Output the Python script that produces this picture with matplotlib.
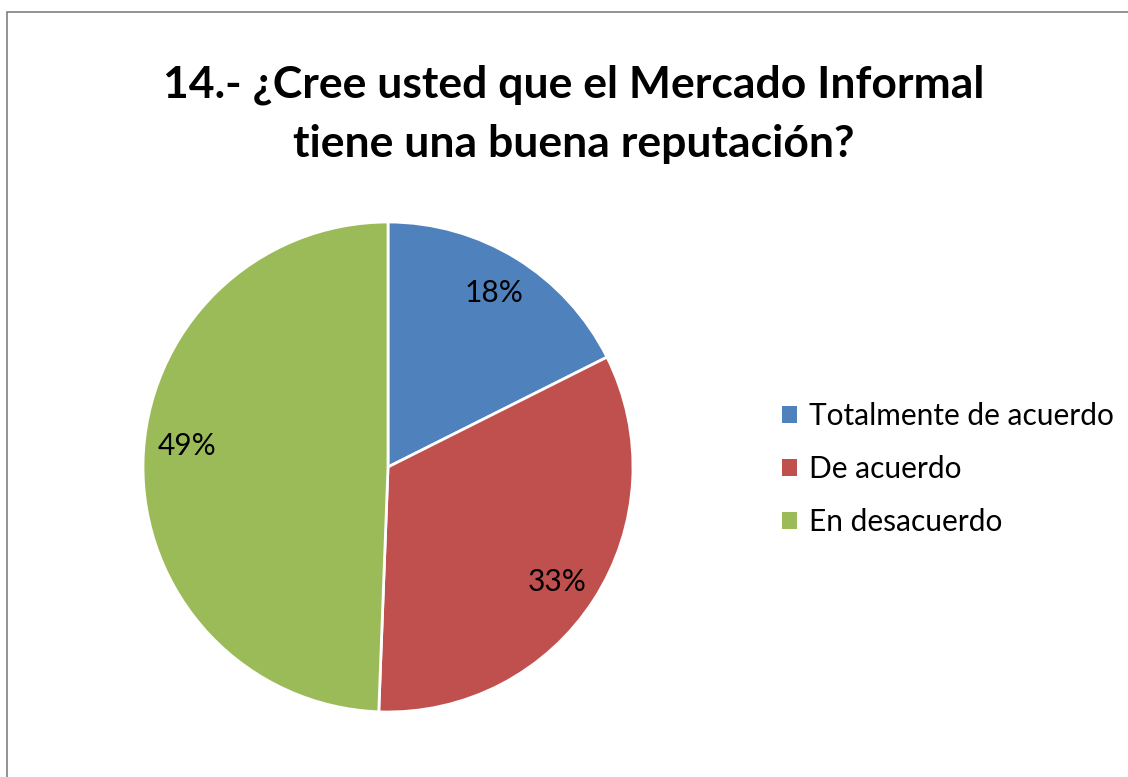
import matplotlib
matplotlib.use('Agg')
import matplotlib.pyplot as plt
from matplotlib.patches import Rectangle, Patch

plt.rcParams['font.family'] = ['Lato', 'DejaVu Sans']

categories = ['Totalmente de acuerdo', 'De acuerdo', 'En desacuerdo']
values = [17.6, 33.0, 49.4]
colors = ['#4f81bd', '#c0504d', '#9bbb59']
title = '14.- ¿Cree usted que el Mercado Informal\ntiene una buena reputación?'

W, H = 1128, 777
fig = plt.figure(figsize=(W / 100, H / 100), dpi=100)

# outer chart border (right and bottom run off the picture)
fig.patches.append(Rectangle((7 / W, -0.1), 1.2, 1 - 12 / H + 0.1,
                             transform=fig.transFigure, fill=False,
                             edgecolor='#808080', linewidth=1.2))

cx, cy, r = 388, 467, 245
ax = fig.add_axes([(cx - r) / W, (H - cy - r) / H, 2 * r / W, 2 * r / H])
wedges, texts, autotexts = ax.pie(
    values, colors=colors, startangle=90, counterclock=False,
    autopct='%.0f%%', pctdistance=0.82,
    wedgeprops=dict(edgecolor='white', linewidth=2),
    textprops=dict(fontsize=21.5, color='black'))
ax.set_xlim(-1, 1)
ax.set_ylim(-1, 1)
ax.set_aspect('equal')

# Excel puts the big slice label a little higher
x, y = autotexts[2].get_position()
autotexts[2].set_position((x, y + 0.07))
x, y = autotexts[0].get_position()
autotexts[0].set_position((x, y + 0.012))
x, y = autotexts[1].get_position()
autotexts[1].set_position((x, y - 0.025))

fig.text(574 / W, 1 - 114 / H, title, ha='center', va='center',
         fontsize=32, fontweight='bold', linespacing=1.58)

handles = [Patch(facecolor=c, edgecolor='none') for c in colors]
fig.legend(handles, categories, loc='center left',
           bbox_to_anchor=(755 / W, 1 - 469 / H), frameon=False,
           fontsize=21.5, handlelength=0.5, handleheight=0.5,
           handletextpad=0.4, labelspacing=0.85)

fig.savefig('out.png', dpi=100)
